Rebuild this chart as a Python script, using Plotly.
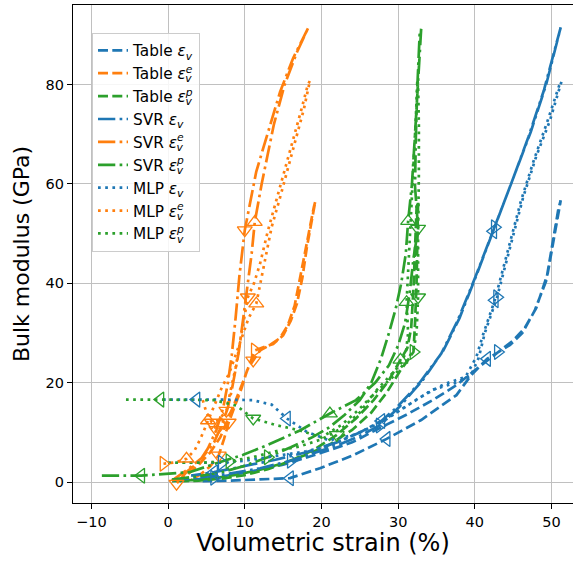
import plotly.graph_objects as go

# ---------------- data (volumetric strain %, bulk modulus GPa) ----------------
TABLE_EV = [(1.5, 0.2), (6, 0.9), (10, 1.9), (15, 3.5), (19.8, 5.8), (24, 8.0), (27.5, 10.8), (31, 13.5),
            (34.5, 16.5), (37.6, 19.5), (40, 22.5), (43, 26.2), (45, 28.5), (46.5, 31), (48, 35), (49.5, 42),
            (51.2, 56.7),
            (50.9, 55), (49.3, 40.5), (47.8, 34.5), (46.2, 30), (44.6, 27.6), (41.6, 24.8), (39.5, 21.5),
            (37.6, 17.5), (33, 12.5), (28.5, 8.7), (24, 5.3), (19.8, 2.8), (15.9, 0.8), (12, 0.5), (8, 0.3),
            (4.5, 0.2)]
TABLE_EE = [(1.1, 0), (2.5, 1.5), (4, 3.5), (5.5, 6), (6.8, 9), (7.8, 12.5), (8.7, 16), (9.6, 19.5),
            (10.5, 23), (11.3, 26.5), (12.5, 27.2), (13.7, 27.8), (15, 29.5), (16, 32.5), (16.8, 35.9),
            (17.5, 41), (18.1, 47.3), (18.7, 52), (19.2, 56.5),
            (19, 55.3), (18.4, 50.5), (17.8, 46), (17.2, 41.2), (16.5, 35.5), (15.6, 31.5), (14.6, 29),
            (13.3, 27.6), (12, 26.5), (11.1, 24.5), (10.3, 22.5), (9.6, 19), (8.8, 15.5), (7.9, 12),
            (7.3, 8.7), (6.6, 5.4), (5.5, 3.2), (4.2, 1.5), (3, 0.5)]
TABLE_EP = [(0.5, 0.2), (3, 0.4), (6, 0.8), (9, 1.5), (12, 2.5), (15, 3.8), (18, 5.5), (21, 7.5),
            (24, 10.5), (26.5, 14), (28.5, 18), (30.3, 22.5), (31.3, 24.6), (32, 26.2), (32.2, 32),
            (32.4, 40), (32.5, 48), (32.6, 56.5),
            (32.4, 55), (32.2, 47), (32, 39), (31.7, 31), (31.2, 27), (30.3, 24.6), (28.8, 20.5),
            (26.8, 16.5), (24.5, 12.8), (22, 9.5), (19, 6.5), (16, 4.3), (13, 2.6), (10, 1.4), (7, 0.7),
            (4, 0.3), (2, 0.2)]

SVR_EV = [(0.5, 0.4), (4, 0.9), (8, 1.7), (12, 2.8), (16, 4.3), (19.8, 6.2), (22.4, 7.6), (25, 9.3),
          (27.6, 11.4), (30.2, 15.2), (33.2, 20.5), (35.9, 26.5), (38, 33), (40.3, 42), (42.6, 51.3),
          (45, 61), (47.3, 70.5), (49.3, 80), (51.2, 91.5),
          (50.9, 89.8), (49, 78.8), (47, 69.5), (44.8, 60.3), (42.4, 50.5), (40, 41), (37.7, 32.3),
          (35.6, 25.8), (32.8, 20), (29.8, 15), (27.8, 12.3), (25, 10), (22, 8), (18, 6), (14, 4.5),
          (10, 3.2), (6, 2.0), (3, 1.3)]
SVR_EE = [(0.5, 0.3), (2.5, 2.5), (4.5, 5), (6, 8), (7, 11.5), (7.8, 15), (8.3, 18.5), (8.7, 22),
          (9.2, 26), (9.8, 33), (10.4, 40), (10.9, 46), (11.3, 52.3), (12.2, 60), (13.0, 66), (13.8, 72),
          (15.2, 80), (16.8, 86.5), (18.3, 91.5),
          (17.9, 90.2), (16.3, 85.3), (14.6, 78.5), (13.0, 70.5), (11.5, 62.5), (10.0, 50.7), (9.3, 41.5),
          (8.8, 33), (8.3, 25.5), (7.8, 20), (7.2, 15), (6.3, 10.5), (5.2, 6.8), (4, 4), (2.5, 2.2),
          (1.1, -0.3)]
SVR_EP = [(0.5, 0.5), (4, 1.2), (7, 2.0), (9.8, 3.2), (13, 5), (16, 7), (18.9, 9.1), (21, 11),
          (23, 13.5), (25, 16.5), (26.5, 20), (27.8, 25), (28.8, 30), (29.7, 35), (30.4, 40), (31, 46),
          (31.3, 52.5), (31.8, 60), (32.2, 70), (32.6, 80), (33, 91.2),
          (32.8, 90), (32.5, 79.5), (32.3, 69), (32.2, 59.5), (32.6, 51), (32.0, 45), (31.5, 38),
          (30.9, 32), (30, 27.5), (28.8, 23.5), (27, 20), (24.5, 16.5), (21.1, 13.8), (17.2, 10.4),
          (13, 7.5), (9.8, 5.5), (6.7, 4.0), (2.8, 2.0), (-3.5, 1.3), (-8.7, 1.3)]

MLP_EV = [(0, 3.9), (3.5, 3.9), (7, 3.9), (10, 4.3), (14, 5.2), (18, 6.2), (21.1, 7.3), (25.5, 10.4),
          (28.5, 12.8), (31.6, 15.8), (34.5, 18.6), (37.6, 20), (39.5, 21.5), (40.5, 25), (41.3, 30),
          (42.9, 37.2), (44.6, 47), (46.3, 57.3), (48, 65.5), (49.8, 72.8), (51.3, 80.6),
          (51, 79.8), (49.4, 72.3), (47.7, 64.8), (46, 56.5), (44.3, 46.3), (42.6, 36.6), (41.1, 29.8),
          (40.2, 25.2), (38.8, 21.2), (36, 19.7), (32.9, 17.1), (28, 12.2), (24.5, 9.6), (21, 8.4),
          (18, 10.2), (15.5, 12.8), (13.5, 15.6), (11, 16.5), (7, 16.6), (3.7, 16.6), (-1.1, 16.6)]
MLP_EE = [(-0.6, 3.7), (1, 4.0), (2.4, 4.7), (3.5, 6.5), (4.3, 9), (5.2, 12.4), (6, 15.5), (7, 19),
          (8, 22), (8.8, 25.5), (9.6, 29), (10.5, 33), (11.5, 35.9), (12.6, 44.6), (13.5, 51.3),
          (14.5, 56.7), (15.7, 63.5), (16.8, 69.4), (17.7, 75), (18.5, 80.8),
          (18.2, 79.8), (17.3, 74.5), (16.3, 69), (15.2, 63), (14.1, 56.5), (13, 50.5), (12, 44),
          (11.2, 40), (10.4, 37.2), (9.8, 32), (9.3, 27), (8.8, 23), (8.3, 19.5), (7.6, 14.4),
          (6.6, 12.5), (5.7, 12), (5, 14), (4.5, 16.6)]
MLP_EP = [(0, 3.9), (4, 3.9), (8, 4.2), (11, 5), (14, 6.2), (17.2, 7.2), (20, 8.6), (22.8, 11),
          (25, 14), (27.2, 18.5), (29, 21.5), (30.2, 23.5), (31, 26), (31.3, 30), (31.1, 36.2),
          (31.4, 45), (31.7, 55), (32, 65), (32.3, 73), (32.5, 81),
          (32.6, 80), (32.7, 72), (32.7, 62), (32.6, 50), (32.6, 37.2), (32.4, 30), (32, 26.5),
          (31, 24.2), (29.2, 21), (27.2, 18.3), (24.8, 14.5), (22.6, 11.5), (20, 9), (17.2, 10.4),
          (14, 11.5), (11.1, 12.8), (8.9, 15.4), (6, 16.5), (2, 16.6), (-1, 16.6), (-5.6, 16.6)]

X_TICKS = [-10, 0, 10, 20, 30, 40, 50]
Y_TICKS = [0, 20, 40, 60, 80]

# ---------------- style ----------------
C_V, C_E, C_P = "#1f77b4", "#ff7f0e", "#2ca02c"
LW = 2.7
DASH = {"table": "10px,4.3px", "svr": "17.3px,4.3px,2.7px,4.3px", "mlp": "2.7px,4.5px"}
SYM = {">": "triangle-right-open", "<": "triangle-left-open",
       "^": "triangle-up-open", "v": "triangle-down-open"}
# marker placement: (index into series, direction)
MARKS = {
    "TABLE_EV": [(1, ">"), (11, ">"), (22, "<"), (26, "<"), (29, "<")],
    "TABLE_EE": [(9, ">"), (28, "v"), (32, "v"), (34, "v")],
    "TABLE_EP": [(13, ">"), (23, "^"), (27, "v")],
    "SVR_EV": [(4, ">"), (8, ">"), (14, ">"), (23, "<"), (29, "<"), (35, "<")],
    "SVR_EE": [(4, "^"), (12, "^"), (24, "v"), (30, "v"), (34, "v")],
    "SVR_EP": [(4, ">"), (16, "^"), (25, "v"), (33, "^"), (39, "<")],
    "MLP_EV": [(2, ">"), (15, ">"), (26, "<"), (36, "<"), (40, "<")],
    "MLP_EE": [(0, ">"), (2, "^"), (5, "^"), (12, "^"), (28, "v"), (33, "v"), (35, "v")],
    "MLP_EP": [(2, ">"), (14, "^"), (24, "v"), (35, "v"), (39, "<")],
}

EV = "<i>ε</i><sub><i>v</i></sub>"
EE = "<i>ε</i><sup><span style='letter-spacing:-7px'><i>e</i></span></sup><sub><i>v</i></sub>"
EPL = "<i>ε</i><sup><span style='letter-spacing:-7px'><i>p</i></span></sup><sub><i>v</i></sub>"

SERIES = [
    ("TABLE_EV", TABLE_EV, C_V, "table", "Table " + EV),
    ("TABLE_EE", TABLE_EE, C_E, "table", "Table " + EE),
    ("TABLE_EP", TABLE_EP, C_P, "table", "Table " + EPL),
    ("SVR_EV", SVR_EV, C_V, "svr", "SVR " + EV),
    ("SVR_EE", SVR_EE, C_E, "svr", "SVR " + EE),
    ("SVR_EP", SVR_EP, C_P, "svr", "SVR " + EPL),
    ("MLP_EV", MLP_EV, C_V, "mlp", "MLP " + EV),
    ("MLP_EE", MLP_EE, C_E, "mlp", "MLP " + EE),
    ("MLP_EP", MLP_EP, C_P, "mlp", "MLP " + EPL),
]

fig = go.Figure()
for key, pts, color, kind, label in SERIES:
    xs = [p[0] for p in pts]
    ys = [p[1] for p in pts]
    fig.add_trace(go.Scatter(x=xs, y=ys, mode="lines", name=label, legendgroup=key,
                             line=dict(color=color, width=LW, dash=DASH[kind])))
for key, pts, color, kind, label in SERIES:
    mk = MARKS[key]
    fig.add_trace(go.Scatter(x=[pts[i][0] for i, _ in mk], y=[pts[i][1] for i, _ in mk],
                             mode="markers", showlegend=False, legendgroup=key, hoverinfo="skip",
                             marker=dict(symbol=[SYM[d] for _, d in mk], size=13, color=color,
                                         line=dict(color=color, width=1.3))))

FONT = "DejaVu Sans"
fig.update_layout(
    width=573, height=563,
    margin=dict(l=73, r=0, t=5, b=60, autoexpand=False),
    plot_bgcolor="white", paper_bgcolor="white",
    font=dict(family=FONT, color="black", size=15),
    showlegend=True,
    legend=dict(x=0.038, y=0.944, xanchor="left", yanchor="top",
                bgcolor="rgba(255,255,255,0.85)", bordercolor="#cccccc", borderwidth=1,
                font=dict(family=FONT, size=15.3), tracegroupgap=0, itemwidth=30),
)
fig.update_xaxes(range=[-12.4, 52.8], tickvals=X_TICKS, ticktext=[("−" + str(-v)) if v < 0 else str(v) for v in X_TICKS],
                 automargin=False,
                 showgrid=True, gridcolor="#c0c0c0", gridwidth=1.3, zeroline=False,
                 showline=True, linecolor="black", linewidth=1.2, mirror=True,
                 ticks="outside", ticklen=5, tickwidth=1.2, tickcolor="black",
                 tickfont=dict(size=14.5, family=FONT),
                 title=dict(text="Volumetric strain (%)", font=dict(size=24, family=FONT), standoff=4))
fig.update_yaxes(range=[-4.2, 96.0], tickvals=Y_TICKS, automargin=False,
                 showgrid=True, gridcolor="#c0c0c0", gridwidth=1.3, zeroline=False,
                 showline=True, linecolor="black", linewidth=1.2,
                 ticks="outside", ticklen=5, tickwidth=1.2, tickcolor="black",
                 tickfont=dict(size=14.5, family=FONT),
                 title=dict(text="Bulk modulus (GPa)", font=dict(size=22, family=FONT), standoff=9))

fig.write_html("out.html", config={"displayModeBar": False},
               post_script="document.body.style.margin='0';document.body.style.overflow='hidden';")
